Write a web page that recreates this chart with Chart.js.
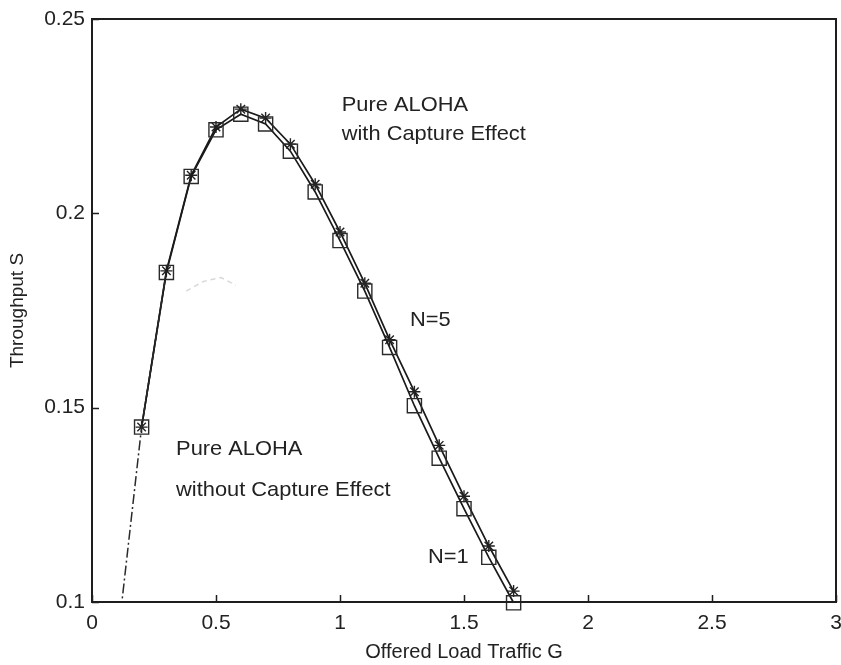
<!DOCTYPE html>
<html><head><meta charset="utf-8">
<script src="https://cdn.jsdelivr.net/npm/chart.js@4.4.1/dist/chart.umd.min.js"></script>
<style>html,body{margin:0;padding:0;background:#fff;}#wrap{width:841px;height:665px;}</style>
</head><body><div id="wrap"><canvas id="c" width="841" height="665"></canvas></div>
<script>
// ---- data ----
const loadG = [0.2,0.3,0.4,0.5,0.6,0.7,0.8,0.9,1.0,1.1,1.2,1.3,1.4,1.5,1.6,1.7];
const throughputN1 = [0.145,0.1848,0.2095,0.2215,0.2255,0.223,0.216,0.2055,0.193,0.180,0.1655,0.1505,0.137,0.124,0.1115,0.0998];
const throughputN5 = [0.145,0.1852,0.2098,0.2222,0.2268,0.2245,0.2178,0.2075,0.1952,0.182,0.1675,0.1541,0.1403,0.1272,0.1144,0.1028];
const tailG = [0.1,0.2,0.3];
const tailS = [0.0884,0.145,0.185];
const fadedG = [0.38,0.45,0.52,0.58];
const fadedS = [0.180,0.1825,0.1835,0.1815];
const xTickValues = [0,0.5,1,1.5,2,2.5,3];
const xTickLabels = ['0','0.5','1','1.5','2','2.5','3'];
const yTickValues = [0.1,0.15,0.2,0.25];
const yTickLabels = ['0.1','0.15','0.2','0.25'];
const noteTexts = ['Pure ALOHA','with Capture Effect','N=5','N=1','Pure ALOHA','without Capture Effect'];
const noteG = [1.007,1.007,1.282,1.355,0.339,0.339];
const noteS = [0.2279,0.2204,0.1726,0.1116,0.1394,0.1288];

const toXY = (xs, ys) => xs.map((x,i)=>({x:x,y:ys[i]}));
const FONT = "'Liberation Sans', Arial, sans-serif";

const framePlugin = {
  id:'frame',
  afterDatasetsDraw(chart){
    const {ctx, chartArea:a, scales:{x,y}} = chart;
    ctx.save();
    ctx.strokeStyle = '#1e1e1e';
    ctx.lineWidth = 2;
    ctx.strokeRect(a.left, a.top, a.right-a.left, a.bottom-a.top);
    ctx.lineWidth = 1.5;
    ctx.beginPath();
    xTickValues.forEach(v=>{const px=Math.round(x.getPixelForValue(v))+0.5; ctx.moveTo(px,a.bottom); ctx.lineTo(px,a.bottom-7);});
    yTickValues.forEach(v=>{const py=Math.round(y.getPixelForValue(v))+0.5; ctx.moveTo(a.left,py); ctx.lineTo(a.left+7,py);});
    ctx.stroke();
    ctx.fillStyle = '#222';
    ctx.font = '21px ' + FONT;
    ctx.textBaseline = 'middle';
    ctx.textAlign = 'left';
    noteTexts.forEach((t,i)=>{
      const px = x.getPixelForValue(noteG[i]), py = y.getPixelForValue(noteS[i]);
      ctx.save(); ctx.translate(px,py); ctx.scale(1.04,1); ctx.fillText(t,0,0); ctx.restore();
    });
    ctx.restore();
  }
};

new Chart(document.getElementById('c'), {
  type:'line',
  data:{datasets:[
    {label:'faded', data:toXY(fadedG,fadedS), borderColor:'#d8d8d8', borderWidth:1.5, borderDash:[5,4], pointRadius:0, fill:false},
    {label:'tail', data:toXY(tailG,tailS), borderColor:'#2a2a2a', borderWidth:1.5, borderDash:[10,3,2,3], pointRadius:0, fill:false},
    {label:'N=1', data:toXY(loadG,throughputN1), borderColor:'#1a1a1a', borderWidth:1.7, pointStyle:'rect', pointRadius:10, pointBorderColor:'#2a2a2a', pointBackgroundColor:'rgba(0,0,0,0)', pointBorderWidth:1.4, fill:false, clip:false},
    {label:'N=5', data:toXY(loadG,throughputN5), borderColor:'#1a1a1a', borderWidth:1.7, pointStyle:'star', pointRadius:6, pointBorderColor:'#222', pointBorderWidth:1.4, fill:false}
  ]},
  options:{
    responsive:false, animation:false, devicePixelRatio:1,
    layout:{autoPadding:false, padding:{left:0,top:19,right:5,bottom:0}},
    plugins:{legend:{display:false}, tooltip:{enabled:false}},
    scales:{
      x:{type:'linear', min:0, max:3,
        afterFit(s){s.height=63; s.paddingRight=0; s.paddingLeft=0;},
        afterBuildTicks(s){s.ticks=xTickValues.map(v=>({value:v}));},
        grid:{display:false, drawTicks:false}, border:{display:false},
        ticks:{color:'#222', font:{family:FONT,size:21}, padding:9, maxRotation:0, autoSkip:false,
          callback:(v)=>xTickLabels[xTickValues.indexOf(v)]},
        title:{display:true, text:'Offered Load Traffic G', color:'#222', font:{family:FONT,size:20}, padding:{top:0,bottom:1}}
      },
      y:{type:'linear', min:0.1, max:0.25,
        afterFit(s){s.width=92; s.paddingTop=0; s.paddingBottom=0;},
        afterBuildTicks(s){s.ticks=yTickValues.map(v=>({value:v}));},
        grid:{display:false, drawTicks:false}, border:{display:false},
        ticks:{color:'#222', font:{family:FONT,size:21}, padding:7, autoSkip:false,
          callback:(v)=>yTickLabels[yTickValues.indexOf(v)]},
        title:{display:true, text:'Throughput S', color:'#222', font:{family:FONT,size:19}, padding:{top:6,bottom:0}}
      }
    }
  },
  plugins:[framePlugin]
});
</script></body></html>
